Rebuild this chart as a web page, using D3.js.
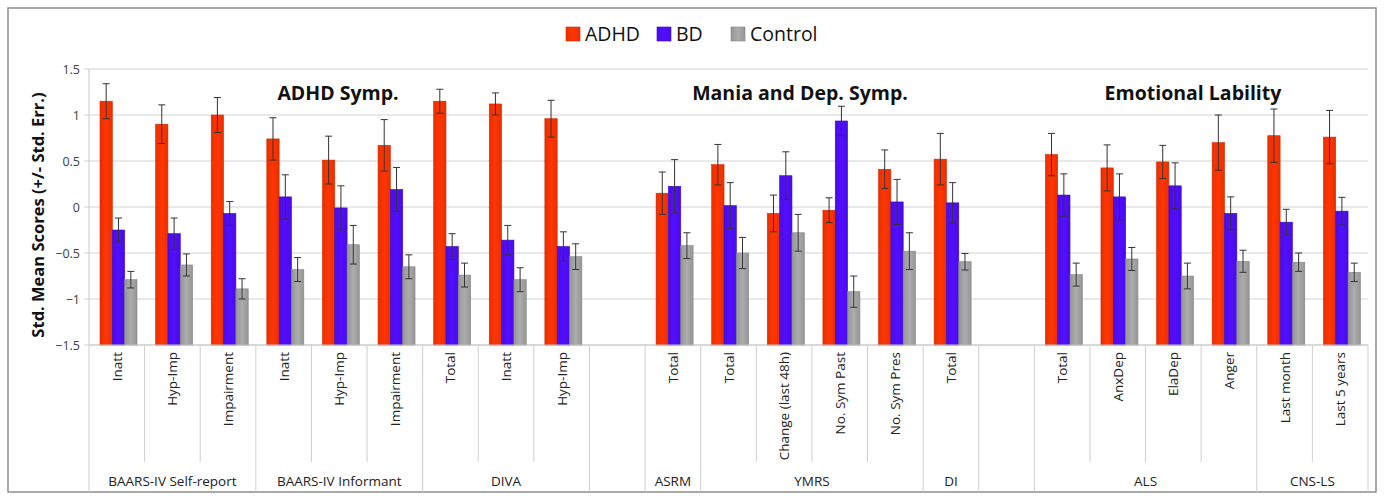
<!DOCTYPE html>
<html>
<head>
<meta charset="utf-8">
<script src="https://cdn.jsdelivr.net/npm/d3@7"></script>
<style>
  body { margin: 0; background: #fff; }
  text { font-family: "Open Sans", "DejaVu Sans", sans-serif; }
</style>
</head>
<body>
<div id="chart"></div>
<script>
// sub-category labels (one per slot, "" = empty spacer slot)
var subLabels = ["Inatt", "Hyp-Imp", "Impairment", "Inatt", "Hyp-Imp", "Impairment",
  "Total", "Inatt", "Hyp-Imp", "", "Total", "Total", "Change (last 48h)", "No. Sym Past",
  "No. Sym Pres", "Total", "", "Total", "AnxDep", "ElaDep", "Anger", "Last month", "Last 5 years"];
var groupNames = ["BAARS-IV Self-report", "BAARS-IV Informant", "DIVA", "", "ASRM", "YMRS", "DI", "", "ALS", "CNS-LS"];
var groupSizes = [3, 3, 3, 1, 1, 4, 1, 1, 4, 2];
var seriesNames = ["ADHD", "BD", "Control"];

var adhd = [1.15, 0.90, 1.00, 0.74, 0.51, 0.67, 1.15, 1.12, 0.96, null, 0.15, 0.46, -0.07, -0.035, 0.41, 0.52, null, 0.57, 0.425, 0.49, 0.70, 0.775, 0.76];
var adhdErr = [0.19, 0.21, 0.19, 0.23, 0.26, 0.28, 0.13, 0.12, 0.20, null, 0.23, 0.22, 0.20, 0.135, 0.21, 0.28, null, 0.23, 0.25, 0.18, 0.30, 0.29, 0.29];
var bd = [-0.25, -0.29, -0.07, 0.11, -0.01, 0.19, -0.43, -0.36, -0.43, null, 0.225, 0.015, 0.34, 0.935, 0.055, 0.045, null, 0.13, 0.11, 0.23, -0.07, -0.165, -0.045];
var bdErr = [0.13, 0.17, 0.13, 0.24, 0.24, 0.24, 0.14, 0.16, 0.16, null, 0.29, 0.25, 0.26, 0.16, 0.245, 0.22, null, 0.23, 0.25, 0.25, 0.18, 0.14, 0.15];
var control = [-0.79, -0.63, -0.89, -0.68, -0.41, -0.65, -0.74, -0.79, -0.54, null, -0.42, -0.50, -0.28, -0.92, -0.48, -0.595, null, -0.735, -0.565, -0.75, -0.59, -0.60, -0.71];
var controlErr = [0.09, 0.12, 0.11, 0.13, 0.21, 0.13, 0.13, 0.13, 0.14, null, 0.14, 0.17, 0.20, 0.17, 0.20, 0.09, null, 0.125, 0.125, 0.14, 0.12, 0.10, 0.10];

var yTicks = [-1.5, -1, -0.5, 0, 0.5, 1, 1.5];
var sectionTitles = ["ADHD Symp.", "Mania and Dep. Symp.", "Emotional Lability"];

var svgWidth = 1384;
var svgHeight = 496;
var margin = { top: 69, right: 16, bottom: 151, left: 89 };
var width = svgWidth - margin.left - margin.right;
var height = svgHeight - margin.top - margin.bottom;

var colors = ["#ff3300", "#4f0dff", "#a3a3a3"];
var edge = ["#d42a00", "#3a08c8", "#868686"];

var svg = d3.select("#chart").append("svg")
  .attr("width", svgWidth)
  .attr("height", svgHeight);

// horizontal shading gradients, Excel style
var defs = svg.append("defs");
colors.forEach(function(c, i) {
  var g = defs.append("linearGradient").attr("id", "grad" + i)
    .attr("x1", "0%").attr("x2", "100%").attr("y1", "0%").attr("y2", "0%");
  g.append("stop").attr("offset", "0%").attr("stop-color", d3.color(c).darker(0.25));
  g.append("stop").attr("offset", "50%").attr("stop-color", d3.color(c).brighter(0.15));
  g.append("stop").attr("offset", "100%").attr("stop-color", d3.color(c).darker(0.25));
});

// outer frame
svg.append("rect")
  .attr("x", 8).attr("y", 8)
  .attr("width", 1368).attr("height", 484)
  .attr("fill", "none")
  .attr("stroke", "#8c8c8c")
  .attr("stroke-width", 1.5);

var chartGroup = svg.append("g")
  .attr("transform", `translate(${margin.left}, ${margin.top})`);

var x0 = d3.scaleBand()
  .domain(d3.range(subLabels.length))
  .range([0, width]);

var x1 = d3.scaleBand()
  .domain(d3.range(3))
  .range([11, 48]);

var y = d3.scaleLinear()
  .domain([-1.5, 1.5])
  .range([height, 0]);

// gridlines
chartGroup.append("g")
  .selectAll("line")
  .data(yTicks)
  .enter()
  .append("line")
  .attr("x1", -5)
  .attr("x2", width)
  .attr("y1", d => y(d))
  .attr("y2", d => y(d))
  .attr("stroke", "#d4d4d4")
  .attr("stroke-width", 1);

// y axis line
chartGroup.append("line")
  .attr("x1", 0).attr("x2", 0)
  .attr("y1", 0).attr("y2", height)
  .attr("stroke", "#c8c8c8");

// y tick labels
var leftAxis = d3.axisLeft(y).tickValues(yTicks).tickSize(0).tickPadding(9)
  .tickFormat(d3.format("~g"));
var yAxis = chartGroup.append("g").call(leftAxis);
yAxis.select(".domain").remove();
yAxis.selectAll("text")
  .attr("font-size", 12.5)
  .attr("fill", "#404040")
  .style("font-family", "'Open Sans', sans-serif");

// y axis title
svg.append("text")
  .attr("transform", "rotate(-90)")
  .attr("x", -215)
  .attr("y", 44)
  .attr("text-anchor", "middle")
  .attr("font-size", 16.5)
  .attr("font-weight", "bold")
  .attr("fill", "#111")
  .text("Std. Mean Scores (+/- Std. Err.)");

// bars
var allVals = [adhd, bd, control];
var allErrs = [adhdErr, bdErr, controlErr];
var barData = [];
subLabels.forEach(function(lab, i) {
  for (var s = 0; s < 3; s++) {
    if (allVals[s][i] === null) continue;
    barData.push({ slot: i, s: s, v: allVals[s][i], e: allErrs[s][i] });
  }
});

chartGroup.append("g")
  .selectAll("rect")
  .data(barData)
  .enter()
  .append("rect")
  .attr("x", d => x0(d.slot) + x1(d.s))
  .attr("width", x1.bandwidth())
  .attr("y", d => y(d.v))
  .attr("height", d => y(-1.5) - y(d.v))
  .attr("fill", d => "url(#grad" + d.s + ")")
  .attr("stroke", d => edge[d.s])
  .attr("stroke-width", 0.6);

// error bars
var errG = chartGroup.append("g")
  .attr("stroke", "#333")
  .attr("stroke-width", 1);

var errs = errG.selectAll("g")
  .data(barData)
  .enter()
  .append("g")
  .attr("transform", d => `translate(${x0(d.slot) + x1(d.s) + x1.bandwidth() / 2}, 0)`);

errs.append("line")
  .attr("x1", 0).attr("x2", 0)
  .attr("y1", d => y(d.v + d.e))
  .attr("y2", d => y(d.v - d.e));
errs.append("line")
  .attr("x1", -3.5).attr("x2", 3.5)
  .attr("y1", d => y(d.v + d.e))
  .attr("y2", d => y(d.v + d.e));
errs.append("line")
  .attr("x1", -3.5).attr("x2", 3.5)
  .attr("y1", d => y(d.v - d.e))
  .attr("y2", d => y(d.v - d.e));

// x axis baseline
chartGroup.append("line")
  .attr("x1", 0).attr("x2", width)
  .attr("y1", height).attr("y2", height)
  .attr("stroke", "#c8c8c8");

// slot dividers: short inside a group, long between groups
var groupStarts = [];
var acc = 0;
groupSizes.forEach(function(n) { groupStarts.push(acc); acc += n; });
var bounds = d3.range(subLabels.length + 1);

chartGroup.append("g")
  .selectAll("line")
  .data(bounds)
  .enter()
  .append("line")
  .attr("x1", d => d * x0.step())
  .attr("x2", d => d * x0.step())
  .attr("y1", height)
  .attr("y2", d => (groupStarts.indexOf(d) >= 0 || d === subLabels.length) ? 492 - margin.top : 462 - margin.top)
  .attr("stroke", "#cfcfcf");

// rotated sub labels
chartGroup.append("g")
  .selectAll("text")
  .data(subLabels)
  .enter()
  .append("text")
  .attr("transform", (d, i) => `translate(${x0(i) + x0.bandwidth() / 2 + 5}, ${height + 7}) rotate(-90)`)
  .attr("text-anchor", "end")
  .attr("font-size", 13.5)
  .attr("fill", "#222")
  .text(d => d);

// group labels
chartGroup.append("g")
  .selectAll("text")
  .data(groupNames)
  .enter()
  .append("text")
  .attr("x", (d, i) => (groupStarts[i] + groupSizes[i] / 2) * x0.step())
  .attr("y", 481 - margin.top)
  .attr("dy", "0.35em")
  .attr("text-anchor", "middle")
  .attr("font-size", 13.5)
  .attr("fill", "#222")
  .text(d => d);

// section titles
var titleX = [338, 800, 1193];
svg.append("g")
  .selectAll("text")
  .data(sectionTitles)
  .enter()
  .append("text")
  .attr("x", (d, i) => titleX[i])
  .attr("y", 93)
  .attr("dy", "0.35em")
  .attr("text-anchor", "middle")
  .attr("font-size", 19.5)
  .attr("font-weight", "bold")
  .attr("fill", "#111")
  .text(d => d);

// legend
var legendX = [566, 657, 731];
var legend = svg.append("g")
  .selectAll("g")
  .data(seriesNames)
  .enter()
  .append("g")
  .attr("transform", (d, i) => `translate(${legendX[i]}, 34)`);

legend.append("rect")
  .attr("x", 0).attr("y", -7)
  .attr("width", 14).attr("height", 14)
  .attr("fill", (d, i) => "url(#grad" + i + ")")
  .attr("stroke", (d, i) => edge[i])
  .attr("stroke-width", 0.6);

legend.append("text")
  .attr("x", 19)
  .attr("y", 0)
  .attr("dy", "0.35em")
  .attr("font-size", 19.5)
  .attr("fill", "#111")
  .text(d => d);
</script>
</body>
</html>
